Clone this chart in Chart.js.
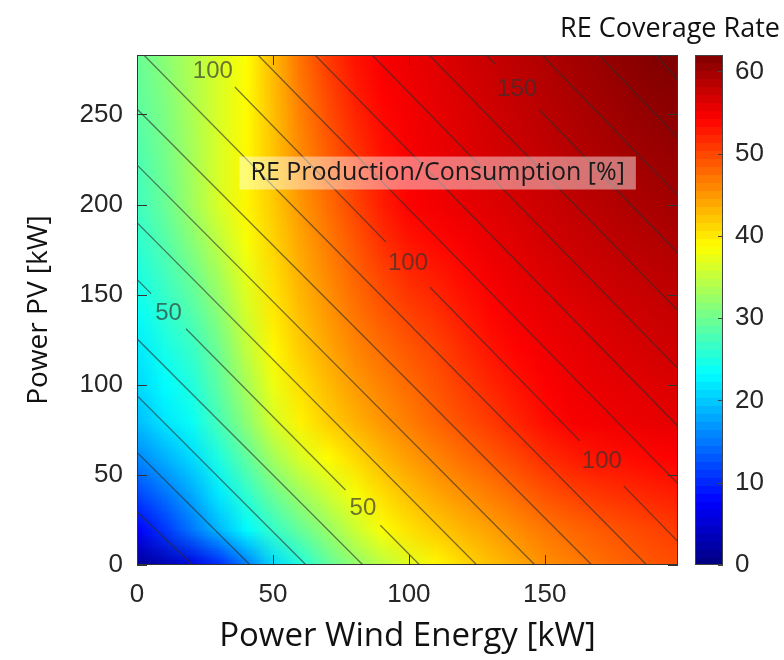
<!DOCTYPE html>
<html>
<head>
<meta charset="utf-8">
<script src="https://cdn.jsdelivr.net/npm/chart.js@4.4.1/dist/chart.umd.min.js"></script>
<style>
  html, body { margin: 0; padding: 0; background: #fff; }
  #chart { display: block; }
</style>
</head>
<body>
<canvas id="chart" width="784" height="660"></canvas>
<script>
// grid nodes of the coverage map (kW)
const windPower = [0, 10, 20, 30, 40, 50, 60, 70, 80, 90, 100, 110, 120, 130, 140, 150, 160, 170, 180, 190, 200];
const pvPower = [0, 20, 40, 60, 80, 100, 120, 140, 160, 180, 200, 220, 240, 260, 280];

// RE coverage rate [%], one row per pvPower value (bottom to top), columns follow windPower
const coverageRate = [
  [1, 3, 6, 10, 15, 21, 25, 29, 32, 34.5, 37, 39, 41, 42.5, 44, 45.5, 46.5, 47.5, 48.3, 49, 49.5],
  [7.5, 11, 15, 19, 23, 26.5, 29.5, 32.5, 35.5, 38.5, 40.5, 42, 43.3, 44.5, 45.8, 47, 48, 48.8, 49.5, 50.2, 50.8],
  [12, 14.8, 18.1, 22.1, 26.1, 29.9, 33, 35.7, 38.3, 40.8, 42.7, 44.2, 45.5, 46.7, 48, 49.3, 50.3, 51, 51.6, 52.1, 52.6],
  [16, 18.5, 21.1, 25.1, 29.1, 33.3, 36.5, 38.9, 41, 43.1, 44.8, 46.3, 47.6, 48.9, 50.2, 51.6, 52.6, 53.2, 53.6, 54, 54.3],
  [19.3, 21.8, 23.8, 27.7, 31.8, 36.3, 39.5, 41.7, 43.5, 45.2, 46.7, 48.2, 49.5, 50.8, 52.2, 53.6, 54.6, 55, 55.3, 55.6, 55.8],
  [20.8, 23.2, 25.2, 29, 33.4, 37.7, 40.7, 42.9, 44.8, 46.4, 47.8, 49.2, 50.6, 52, 53.2, 54.3, 55.1, 55.5, 55.9, 56.2, 56.5],
  [22, 24.6, 26.6, 30.1, 35, 39.1, 41.9, 44.1, 46.1, 47.6, 49, 50.2, 51.7, 53.1, 54.2, 55, 55.6, 56.1, 56.5, 56.9, 57.2],
  [23.5, 25.9, 28.2, 31.7, 36.2, 40, 42.8, 45.1, 47.2, 48.9, 50.3, 51.4, 52.7, 54, 55, 55.6, 56.1, 56.6, 57.1, 57.5, 57.8],
  [24.9, 27.1, 29.8, 33.3, 37.3, 40.7, 43.6, 45.9, 48.2, 50.1, 51.7, 52.6, 53.7, 54.8, 55.6, 56.2, 56.8, 57.3, 57.7, 58.1, 58.5],
  [26, 28.4, 31.5, 35, 38.4, 41.4, 44.3, 46.8, 49.1, 51.4, 53.1, 53.9, 54.7, 55.5, 56.2, 56.9, 57.4, 57.9, 58.4, 58.8, 59.2],
  [27.1, 29.6, 33, 36.5, 39.3, 42, 45.1, 47.6, 50.1, 52.5, 54.3, 55, 55.6, 56.2, 56.8, 57.4, 58, 58.5, 59.1, 59.5, 59.9],
  [27.7, 30.1, 33.3, 36.5, 39.2, 42.3, 45.6, 48.3, 50.8, 53.1, 54.6, 55.3, 55.9, 56.6, 57.2, 57.8, 58.4, 59, 59.6, 60, 60.4],
  [28.4, 30.6, 33.5, 36.5, 39, 42.5, 46.2, 49.1, 51.6, 53.6, 54.8, 55.5, 56.2, 56.9, 57.6, 58.2, 58.9, 59.5, 60.1, 60.6, 61],
  [29, 31.1, 33.8, 36.5, 38.9, 42.8, 46.8, 49.9, 52.4, 54.1, 55, 55.8, 56.5, 57.2, 57.9, 58.6, 59.3, 59.9, 60.6, 61.1, 61.5],
  [29.6, 31.6, 34, 36.5, 38.8, 43, 47.4, 50.6, 53.1, 54.6, 55.3, 56.1, 56.9, 57.6, 58.3, 59, 59.7, 60.4, 61.1, 61.7, 62.1]
];
const colorMin = 0, colorMax = 62;

// tick labels
const windTicks = [0, 50, 100, 150];
const pvTicks = [0, 50, 100, 150, 200, 250];
const colorTicks = [0, 10, 20, 30, 40, 50, 60];

// contour lines of RE production / consumption [%]: where each straight line enters and leaves the plot
const contourLevels = [10, 20, 30, 40, 50, 60, 70, 80, 90, 100, 110, 120, 130, 140, 150, 160, 170, 180];
const contourStartW = [0, 0, 0, 0, 0, 0, 0, 0, 2.5, 24.5, 44.5, 65.5, 86.5, 107.5, 128.5, 149, 170, 191];
const contourStartPV = [29.5, 62.5, 94, 125.5, 158.5, 190, 222, 253, 283, 283, 283, 283, 283, 283, 283, 283, 283, 283];
const contourEndW = [20.6, 41.6, 62.2, 83.1, 104, 125, 146.4, 167.3, 187.5, 199, 199, 199, 199, 199, 199, 199, 199, 199];
const contourEndPV = [0, 0, 0, 0, 0, 0, 0, 0, 0, 13, 45, 77, 109, 141, 173, 205, 237, 269];

// inline contour labels
const labelLevel = [100, 50, 100, 150, 50, 100];
const labelWind = [27.9, 11.6, 99.7, 139.8, 83.1, 171];
const labelPV = [274.7, 140.1, 167.9, 264.4, 31.9, 58.3];

function jet(v) {
  const f = Math.min(Math.max((v - colorMin) / (colorMax - colorMin), 0), 1);
  const ch = c => Math.round(255 * Math.min(Math.max(1.5 - Math.abs(4 * f - c), 0), 1));
  return [ch(3), ch(2), ch(1)];
}

// contour datasets, broken where a label sits
const contourSets = contourLevels.map((lev, i) => {
  const a = { x: contourStartW[i], y: contourStartPV[i] };
  const b = { x: contourEndW[i], y: contourEndPV[i] };
  const slope = (b.y - a.y) / (b.x - a.x);
  const at = w => ({ x: w, y: a.y + (w - a.x) * slope });
  let pts = [a];
  labelLevel.forEach((l, j) => {
    if (l !== lev) return;
    const g = 3 + String(l).length * 1.7;
    const w0 = labelWind[j] - g, w1 = labelWind[j] + g;
    if (w0 > a.x) pts.push(at(w0)); else pts = [];
    pts.push({ x: null, y: null });
    pts.push(at(Math.min(w1, b.x)));
  });
  pts.push(b);
  return {
    type: 'line',
    data: pts,
    showLine: true,
    spanGaps: false,
    borderColor: 'rgba(45,45,45,0.62)',
    borderWidth: 1.3,
    pointRadius: 0,
    fill: false
  };
});

const heatmap = {
  id: 'heatmap',
  beforeDatasetsDraw(chart) {
    const { ctx, chartArea: a, scales: { x, y } } = chart;
    const off = document.createElement('canvas');
    off.width = windPower.length;
    off.height = pvPower.length;
    const octx = off.getContext('2d');
    const img = octx.createImageData(off.width, off.height);
    for (let r = 0; r < pvPower.length; r++) {
      const row = coverageRate[pvPower.length - 1 - r];
      for (let c = 0; c < windPower.length; c++) {
        const rgb = jet(row[c]);
        const k = (r * off.width + c) * 4;
        img.data[k] = rgb[0]; img.data[k + 1] = rgb[1]; img.data[k + 2] = rgb[2]; img.data[k + 3] = 255;
      }
    }
    octx.putImageData(img, 0, 0);
    const hw = (windPower[1] - windPower[0]) / 2, hp = (pvPower[1] - pvPower[0]) / 2;
    const x0 = x.getPixelForValue(windPower[0] - hw);
    const x1 = x.getPixelForValue(windPower[windPower.length - 1] + hw);
    const y0 = y.getPixelForValue(pvPower[pvPower.length - 1] + hp);
    const y1 = y.getPixelForValue(pvPower[0] - hp);
    ctx.save();
    ctx.beginPath();
    ctx.rect(a.left, a.top, a.right - a.left, a.bottom - a.top);
    ctx.clip();
    ctx.imageSmoothingEnabled = true;
    ctx.imageSmoothingQuality = 'low';
    ctx.drawImage(off, x0, y0, x1 - x0, y1 - y0);
    ctx.restore();
  }
};

const extras = {
  id: 'extras',
  afterDatasetsDraw(chart) {
    const { ctx, chartArea: a, scales: { x, y, c } } = chart;
    ctx.save();
    // contour labels
    ctx.font = '24px "Liberation Sans", Arial, sans-serif';
    ctx.fillStyle = 'rgba(50,50,50,0.68)';
    ctx.textAlign = 'center';
    ctx.textBaseline = 'middle';
    labelLevel.forEach((l, j) => {
      ctx.fillText(String(l), x.getPixelForValue(labelWind[j]), y.getPixelForValue(labelPV[j]) + 1);
    });

    // annotation box
    const note = 'RE Production/Consumption [%]';
    ctx.font = '25px "Open Sans", sans-serif';
    const tw = ctx.measureText(note).width;
    const cx = x.getPixelForValue(110.6), cy = y.getPixelForValue(217.5);
    ctx.fillStyle = 'rgba(255,255,255,0.45)';
    ctx.fillRect(cx - tw / 2 - 11, cy - 16.5, tw + 22, 33);
    ctx.fillStyle = '#1a1a1a';
    ctx.fillText(note, cx, cy);

    // frame and inward ticks
    ctx.strokeStyle = '#333';
    ctx.lineWidth = 1;
    ctx.strokeRect(a.left + 0.5, a.top + 0.5, a.right - a.left - 1, a.bottom - a.top - 1);
    ctx.beginPath();
    x.ticks.forEach(t => {
      const px = Math.round(x.getPixelForValue(t.value)) + 0.5;
      ctx.moveTo(px, a.bottom); ctx.lineTo(px, a.bottom - 10);
      ctx.moveTo(px, a.top); ctx.lineTo(px, a.top + 10);
    });
    y.ticks.forEach(t => {
      const py = Math.round(y.getPixelForValue(t.value)) + 0.5;
      ctx.moveTo(a.left, py); ctx.lineTo(a.left + 10, py);
      ctx.moveTo(a.right, py); ctx.lineTo(a.right - 10, py);
    });
    ctx.stroke();

    // colorbar
    const bx = a.right + 17, bw = 28;
    const top = c.getPixelForValue(colorMax), bot = c.getPixelForValue(colorMin);
    const n = 64;
    for (let k = 0; k < n; k++) {
      const v0 = colorMin + (colorMax - colorMin) * k / n;
      const v1 = colorMin + (colorMax - colorMin) * (k + 1) / n;
      const rgb = jet((v0 + v1) / 2);
      ctx.fillStyle = `rgb(${rgb[0]},${rgb[1]},${rgb[2]})`;
      const ya = c.getPixelForValue(v1), yb = c.getPixelForValue(v0);
      ctx.fillRect(bx, Math.floor(ya), bw, Math.ceil(yb) - Math.floor(ya));
    }
    ctx.strokeStyle = '#444';
    ctx.strokeRect(bx + 0.5, top + 0.5, bw - 1, bot - top - 1);
    ctx.beginPath();
    c.ticks.forEach(t => {
      const py = Math.round(c.getPixelForValue(t.value)) + 0.5;
      ctx.moveTo(bx + bw, py); ctx.lineTo(bx + bw - 5, py);
    });
    ctx.stroke();
    ctx.restore();
  }
};

const tickFont = { family: '"Liberation Sans", Arial, sans-serif', size: 26 };
const setTicks = list => s => { s.ticks = list.map(v => ({ value: v })); };
const noPad = w => s => { s.width = w; s.paddingTop = 0; s.paddingBottom = 0; };

new Chart(document.getElementById('chart'), {
  type: 'scatter',
  data: { datasets: contourSets },
  options: {
    responsive: false,
    animation: false,
    layout: { padding: { left: 0, right: 4, top: 0, bottom: 0 } },
    plugins: {
      legend: { display: false },
      tooltip: { enabled: false },
      title: {
        display: true,
        text: 'RE Coverage Rate',
        align: 'end',
        color: '#111',
        font: { family: '"Open Sans", sans-serif', size: 27, weight: 'normal' },
        padding: { top: 13, bottom: 9.6 }
      }
    },
    scales: {
      x: {
        type: 'linear',
        position: 'bottom',
        min: 0,
        max: 199,
        afterBuildTicks: setTicks(windTicks),
        afterFit: s => { s.height = 95; s.paddingLeft = 0; s.paddingRight = 0; },
        grid: { display: false, drawTicks: false },
        border: { display: false },
        ticks: { padding: 14, color: '#262626', font: tickFont, maxRotation: 0, autoSkip: false },
        title: {
          display: true,
          text: 'Power Wind Energy [kW]',
          color: '#111',
          font: { family: '"Open Sans", sans-serif', size: 33 },
          padding: { top: 0, bottom: 4 }
        }
      },
      y: {
        type: 'linear',
        position: 'left',
        min: 0,
        max: 283,
        afterBuildTicks: setTicks(pvTicks),
        afterFit: noPad(137),
        grid: { display: false, drawTicks: false },
        border: { display: false },
        ticks: { padding: 14, color: '#262626', font: tickFont, autoSkip: false },
        title: {
          display: true,
          text: 'Power PV [kW]',
          color: '#111',
          font: { family: '"Open Sans", sans-serif', size: 28 },
          padding: { top: 22, bottom: 0 }
        }
      },
      c: {
        type: 'linear',
        position: 'right',
        min: colorMin,
        max: colorMax,
        afterBuildTicks: setTicks(colorTicks),
        afterFit: noPad(102),
        grid: { display: false, drawTicks: false },
        border: { display: false },
        ticks: { padding: 57, color: '#262626', font: tickFont, autoSkip: false }
      }
    }
  },
  plugins: [heatmap, extras]
});
</script>
</body>
</html>
